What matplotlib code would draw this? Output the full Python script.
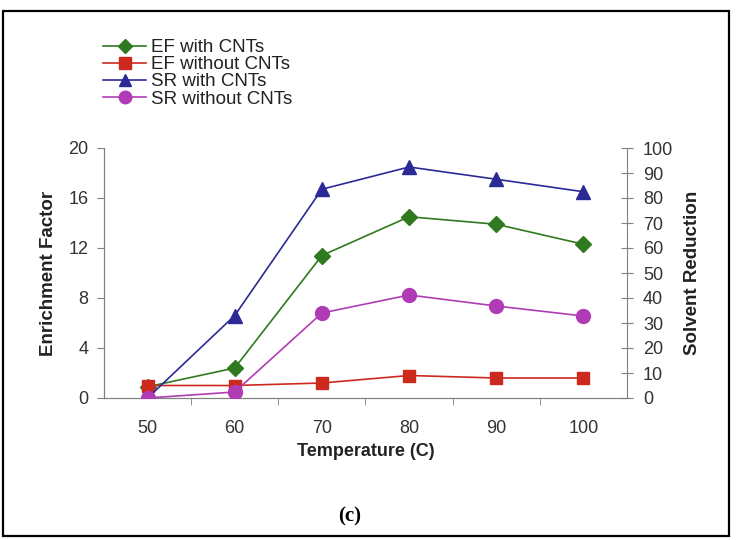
import matplotlib
matplotlib.use("Agg")
import matplotlib.pyplot as plt
from matplotlib.lines import Line2D
from matplotlib.patches import Rectangle

# data
temps = ["50", "60", "70", "80", "90", "100"]
ef_with = [0.9, 2.4, 11.4, 14.5, 13.9, 12.3]
ef_without = [1.0, 1.0, 1.2, 1.8, 1.6, 1.6]
sr_with = [0.0, 33.0, 83.5, 92.4, 87.5, 82.5]
sr_without = [0.0, 2.4, 34.0, 41.2, 36.8, 32.8]

green = "#2f7a1f"
red = "#cc2a1f"
blue = "#2b2a96"
purple = "#b03cb5"
axc = "#808080"
txt = "#333333"

plt.rcParams["font.family"] = ["Liberation Sans", "DejaVu Sans"]

fig = plt.figure(figsize=(7.36, 5.4), dpi=100)
ax = fig.add_axes([104 / 736, 1 - 398 / 540, 523 / 736, 250 / 540])
ax2 = ax.twinx()

x = list(range(len(temps)))
ax.plot(x, ef_with, color=green, marker="D", markersize=8, lw=1.2, zorder=3)
ax.plot(x, ef_without, color=red, marker="s", markersize=9, lw=1.2, zorder=3)
ax2.plot(x, sr_with, color=blue, marker="^", markersize=10, lw=1.2, zorder=3)
ax2.plot(x, sr_without, color=purple, marker="o", markersize=10, lw=1.2, zorder=3)

ax.set_xlim(-0.5, len(temps) - 0.5)
ax.set_ylim(0, 20)
ax2.set_ylim(0, 100)
ax.set_yticks([0, 4, 8, 12, 16, 20])
ax2.set_yticks(range(0, 101, 10))
ax.set_xticks(x)
ax.set_xticklabels(temps)
ax.set_xticks([i + 0.5 for i in x[:-1]], minor=True)
ax.tick_params(axis="x", which="major", length=0, labelsize=13, pad=16, colors=txt)
ax.tick_params(axis="x", which="minor", length=5, color=axc)
ax.tick_params(axis="y", length=5, color=axc, labelsize=13, labelcolor=txt, pad=6)
ax2.tick_params(axis="y", direction="inout", length=9, color=axc, labelsize=13,
                labelcolor=txt, pad=7)

for a in (ax, ax2):
    a.spines["top"].set_visible(False)
    for s in ("left", "right", "bottom"):
        a.spines[s].set_color(axc)
ax.spines["right"].set_visible(False)

ax.set_ylabel("Enrichment Factor", fontsize=13.5, fontweight="bold", labelpad=8, color="#222222")
ax2.set_ylabel("Solvent Reduction", fontsize=13.5, fontweight="bold", labelpad=8, color="#222222")
ax.set_xlabel("Temperature (C)", fontsize=13, fontweight="bold", labelpad=4, color="#222222")

handles = [
    Line2D([], [], color=green, marker="D", markersize=7, lw=1.2),
    Line2D([], [], color=red, marker="s", markersize=8, lw=1.2),
    Line2D([], [], color=blue, marker="^", markersize=9, lw=1.2),
    Line2D([], [], color=purple, marker="o", markersize=9, lw=1.2),
]
labels = ["EF with CNTs", "EF without CNTs", "SR with CNTs", "SR without CNTs"]
fig.legend(handles, labels, loc="upper left", bbox_to_anchor=(90 / 736, 1 - 26 / 540),
           frameon=False, fontsize=13.5, handlelength=2.3, handletextpad=0.25,
           labelspacing=0.0, borderpad=0.2, labelcolor="#222222")

fig.text(350 / 736, 1 - 516 / 540, "(c)", ha="center", va="center",
         fontsize=15, fontweight="bold", family="Liberation Serif")

fig.patches.append(Rectangle((3 / 736, 4 / 540), 726 / 736, 525 / 540,
                             transform=fig.transFigure, fill=False,
                             edgecolor="black", lw=1.6))

fig.savefig("out.png", dpi=100)
